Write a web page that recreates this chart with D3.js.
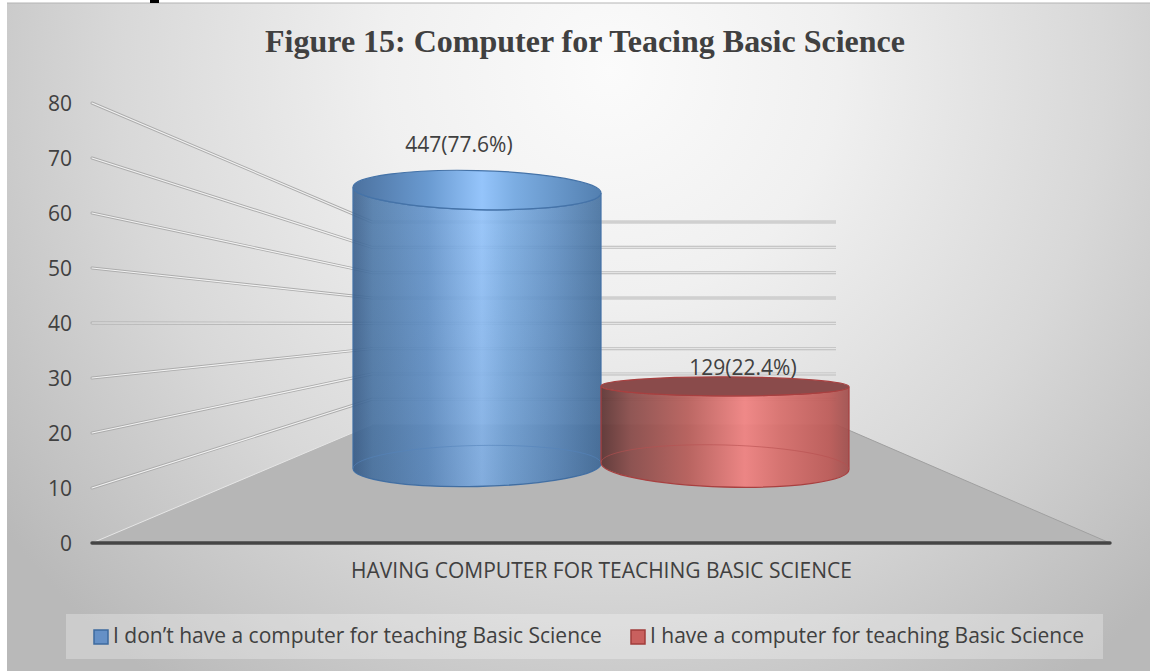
<!DOCTYPE html>
<html>
<head>
<meta charset="utf-8">
<style>
  html, body { margin: 0; padding: 0; background: #fff; }
  svg { display: block; }
  text { font-family: "Open Sans", "Noto Sans", sans-serif; fill: #404040; }
</style>
<script src="https://cdn.jsdelivr.net/npm/d3@7"></script>
</head>
<body>
<svg id="chart" width="1150" height="671"></svg>
<script>
const titleText = "Figure 15: Computer for Teacing Basic Science";
const categoryLabel = "HAVING COMPUTER FOR TEACHING BASIC SCIENCE";
const seriesNames = ["I don’t have a computer for teaching Basic Science", "I have a computer for teaching Basic Science"];
const percentValues = [77.6, 22.4];
const valueLabels = ["447(77.6%)", "129(22.4%)"];
const yTicks = [0, 10, 20, 30, 40, 50, 60, 70, 80];

const svg = d3.select("#chart");
const defs = svg.append("defs");

// Three scales for the fake 3D: front of the left wall, back wall, and the middle where the bars stand
const yFront = d3.scaleLinear().domain([0, 80]).range([543, 103]);
const yBack = d3.scaleLinear().domain([0, 80]).range([424.6, 222]);
const yBar = d3.scaleLinear().domain([0, 80]).range([466, 181.5]);
const xBar = d3.scaleBand().domain(seriesNames).range([353, 849]);

const frontLeft = 92, frontRight = 1110, backLeft = 372, backRight = 836;

function hGradient(id, stops, opacity) {
  const g = defs.append("linearGradient").attr("id", id)
    .attr("x1", "0%").attr("x2", "100%").attr("y1", "0%").attr("y2", "0%");
  stops.forEach(s => g.append("stop")
    .attr("offset", s[0]).attr("stop-color", s[1]).attr("stop-opacity", opacity));
}

// page background
const bg = defs.append("radialGradient").attr("id", "bg")
  .attr("gradientUnits", "userSpaceOnUse")
  .attr("cx", 610).attr("cy", 70).attr("r", 760);
[[0, "#fbfbfb"], [0.3, "#f0f0f0"], [0.65, "#d8d8d8"], [1, "#b9b9b9"]]
  .forEach(s => bg.append("stop").attr("offset", s[0]).attr("stop-color", s[1]));

hGradient("blueBody", [[0, "#3c618e"], [0.08, "#4f7bab"], [0.3, "#6394cc"], [0.52, "#93c4fc"], [0.62, "#7cafe6"], [0.82, "#5f8fc4"], [1, "#44709f"]], 0.9);
hGradient("blueTop", [[0, "#476e9d"], [0.3, "#6597cf"], [0.52, "#92c3fb"], [0.65, "#78abe2"], [1, "#4e7cae"]], 0.97);
hGradient("redBody", [[0, "#5c3433"], [0.12, "#8a4c4a"], [0.35, "#b85e5a"], [0.58, "#f08281"], [0.72, "#d86f6c"], [0.92, "#bd5a57"], [1, "#a04f4d"]], 0.93);

// the highlight fades a bit towards the foot of the bars
const shade = defs.append("linearGradient").attr("id", "shade")
  .attr("x1", "0%").attr("x2", "0%").attr("y1", "0%").attr("y2", "100%");
shade.append("stop").attr("offset", 0).attr("stop-color", "#1c3a60").attr("stop-opacity", 0);
shade.append("stop").attr("offset", 1).attr("stop-color", "#1c3a60").attr("stop-opacity", 0.16);

const barColors = [
  { body: "url(#blueBody)", top: "url(#blueTop)", stroke: "#4573a8", rim: "#5583bb", swatch: "#6590c6", swatchLine: "#3d6a9e" },
  { body: "url(#redBody)", top: "#8a4b4b", stroke: "#a84040", rim: "#b85050", swatch: "#c9605e", swatchLine: "#a13c3b" }
];
// tilt in degrees of the top and bottom ellipse, the picture has a slight perspective skew
const barShape = [
  { rx: 124, ryTop: 19.5, ryBase: 20.5, tiltTop: 1.4, tiltBase: -1.2 },
  { rx: 124, ryTop: 9.5, ryBase: 21, tiltTop: 0.2, tiltBase: 1.6 }
];

svg.append("rect").attr("x", 7).attr("y", 3).attr("width", 1143).attr("height", 668)
  .attr("fill", "url(#bg)");
svg.append("line").attr("x1", 7).attr("x2", 1150).attr("y1", 3).attr("y2", 3)
  .attr("stroke", "#b4b4b4").attr("stroke-width", 1);

// tail of a letter from the page above the figure
svg.append("rect").attr("x", 150).attr("y", 0).attr("width", 9).attr("height", 3).attr("fill", "#000");

svg.append("text").attr("x", 585).attr("y", 52).attr("text-anchor", "middle")
  .style("font-family", "'Liberation Serif', serif").style("font-weight", "bold")
  .style("font-size", "32px").text(titleText);

// floor
svg.append("path")
  .attr("d", d3.line()([[frontLeft, yFront(0)], [backLeft, yBack(0)], [backRight, yBack(0)], [frontRight, yFront(0)]]) + "Z")
  .attr("fill", "#b6b6b6");
svg.append("line")
  .attr("x1", frontLeft).attr("y1", yFront(0)).attr("x2", backLeft).attr("y2", yBack(0))
  .attr("stroke", "#e6e6e6").attr("stroke-width", 1);
svg.append("line")
  .attr("x1", frontRight).attr("y1", yFront(0)).attr("x2", backRight).attr("y2", yBack(0))
  .attr("stroke", "#a0a0a0").attr("stroke-width", 1);

// grid lines, grey casing with a white core
const gridTicks = yTicks.filter(d => d > 0);
const gridG = svg.append("g");
[["#acacac", 3], ["#f2f2f2", 1.2]].forEach(([color, w]) => {
  gridG.append("g").selectAll("line").data(gridTicks).join("line")
    .attr("x1", frontLeft).attr("y1", d => yFront(d))
    .attr("x2", backLeft).attr("y2", d => yBack(d))
    .attr("stroke", color).attr("stroke-width", w).attr("stroke-linecap", "round");
  gridG.append("g").selectAll("line").data(gridTicks).join("line")
    .attr("x1", backLeft).attr("y1", d => yBack(d))
    .attr("x2", backRight).attr("y2", d => yBack(d))
    .attr("stroke", color === "#acacac" ? "#bdbdbd" : "#e4e4e4").attr("stroke-width", w);
});

// y axis labels only, the axis line and ticks are not shown
const yAxis = svg.append("g").attr("transform", "translate(72,1)")
  .call(d3.axisLeft(yFront).tickValues(yTicks).tickSize(0).tickPadding(0));
yAxis.select(".domain").remove();
yAxis.selectAll("text").style("font-size", "21px").style("font-family", "'Open Sans', sans-serif").style("fill", "#404040");

function arcEnds(cx, cy, rx, tilt) {
  const a = tilt * Math.PI / 180;
  return {
    lx: cx - rx * Math.cos(a), ly: cy - rx * Math.sin(a),
    rx: cx + rx * Math.cos(a), ry: cy + rx * Math.sin(a)
  };
}

function ellipsePath(cx, cy, rx, ry, tilt) {
  const e = arcEnds(cx, cy, rx, tilt);
  return `M${e.lx},${e.ly}A${rx},${ry} ${tilt} 1 1 ${e.rx},${e.ry}A${rx},${ry} ${tilt} 1 1 ${e.lx},${e.ly}Z`;
}

const bars = svg.append("g").selectAll("g").data(percentValues).join("g");

bars.each(function (v, i) {
  const g = d3.select(this);
  const s = barShape[i], c = barColors[i];
  const cx = xBar(seriesNames[i]) + xBar.bandwidth() / 2;
  const top = arcEnds(cx, yBar(v), s.rx, s.tiltTop);
  const base = arcEnds(cx, yBar(0), s.rx, s.tiltBase);

  // body: down the left side, round the front of the base, back up the right side, over the front of the top
  const bodyPath = `M${top.lx},${top.ly}L${base.lx},${base.ly}` +
    `A${s.rx},${s.ryBase} ${s.tiltBase} 0 0 ${base.rx},${base.ry}` +
    `L${top.rx},${top.ry}` +
    `A${s.rx},${s.ryTop} ${s.tiltTop} 0 1 ${top.lx},${top.ly}Z`;
  g.append("path").attr("d", bodyPath)
    .attr("fill", c.body).attr("stroke", c.stroke).attr("stroke-width", 1.3);
  if (i === 0) g.append("path").attr("d", bodyPath).attr("fill", "url(#shade)");

  // back rim of the base seen through the bar
  g.append("path")
    .attr("d", `M${base.lx},${base.ly}A${s.rx},${s.ryBase} ${s.tiltBase} 0 1 ${base.rx},${base.ry}`)
    .attr("fill", "none").attr("stroke", c.rim).attr("stroke-width", 1).attr("opacity", 0.6);

  g.append("path")
    .attr("d", ellipsePath(cx, yBar(v), s.rx, s.ryTop, s.tiltTop))
    .attr("fill", c.top).attr("stroke", c.stroke).attr("stroke-width", 1.2);
});

// value labels sit a little left of or right of the bar centre
const labelX = [459, 743], labelY = [146, 369];
svg.append("g").selectAll("text").data(valueLabels).join("text")
  .attr("x", (d, i) => labelX[i]).attr("y", (d, i) => labelY[i])
  .attr("text-anchor", "middle").attr("dominant-baseline", "middle")
  .style("font-size", "21px").text(d => d);

// x axis
const xAxisScale = d3.scalePoint().domain([categoryLabel]).range([601, 601]);
const xAxis = svg.append("g").attr("transform", `translate(0,${yFront(0)})`)
  .call(d3.axisBottom(xAxisScale).tickSize(0).tickPadding(20));
xAxis.select(".domain").remove();
xAxis.selectAll("text").style("font-size", "21px").style("font-family", "'Open Sans', sans-serif").style("fill", "#404040");
svg.append("line").attr("x1", frontLeft).attr("x2", frontRight)
  .attr("y1", yFront(0)).attr("y2", yFront(0))
  .attr("stroke", "#454545").attr("stroke-width", 3.4).attr("stroke-linecap", "round");

// legend
svg.append("rect").attr("x", 66).attr("y", 614).attr("width", 1037).attr("height", 45)
  .attr("fill", "#ffffff").attr("fill-opacity", 0.28);
const legendSwatchX = [94, 631], legendTextX = [113, 650];
const legend = svg.append("g").selectAll("g").data(seriesNames).join("g");
legend.append("rect")
  .attr("x", (d, i) => legendSwatchX[i]).attr("y", 630).attr("width", 14).attr("height", 14)
  .attr("fill", (d, i) => barColors[i].swatch)
  .attr("stroke", (d, i) => barColors[i].swatchLine).attr("stroke-width", 1.5);
legend.append("text")
  .attr("x", (d, i) => legendTextX[i]).attr("y", 637)
  .attr("dominant-baseline", "middle")
  .style("font-size", "21px").text(d => d);
</script>
</body>
</html>
